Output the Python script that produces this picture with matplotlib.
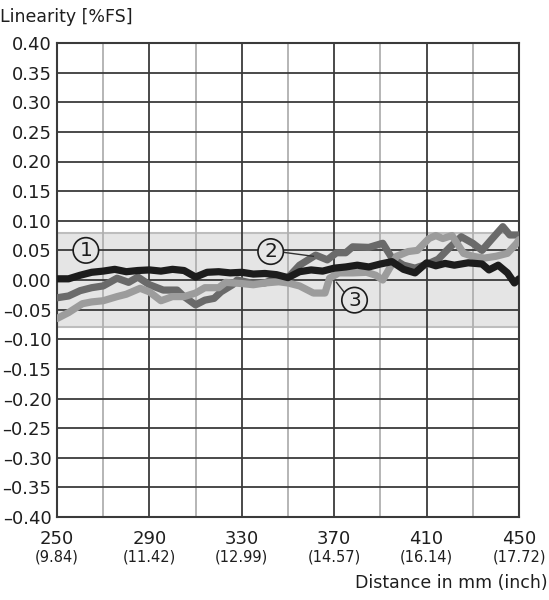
import matplotlib
matplotlib.use("Agg")
import matplotlib.pyplot as plt
import matplotlib.transforms as mtransforms

# ---- data ----
x1 = [250, 255, 260, 265, 270, 275, 280, 285, 290, 295, 300, 305, 310, 315, 320, 325, 330,
      335, 340, 345, 350, 355, 360, 365, 370, 375, 380, 385, 390, 395, 400, 405, 410, 414,
      418, 422, 428, 434, 437, 441, 445, 448, 450]
y1 = [0.002, 0.002, 0.008, 0.013, 0.015, 0.018, 0.014, 0.016, 0.017, 0.015, 0.018, 0.016, 0.005,
      0.013, 0.014, 0.012, 0.013, 0.010, 0.011, 0.009, 0.004, 0.014, 0.017, 0.015, 0.020, 0.022,
      0.025, 0.022, 0.027, 0.031, 0.018, 0.012, 0.029, 0.024, 0.028, 0.025, 0.029, 0.027, 0.017,
      0.025, 0.012, -0.005, 0.002]

x2 = [250, 255, 260, 265, 270, 276, 281, 285, 290, 296, 302, 305, 310, 314, 318, 321, 326, 328,
      334, 340, 344, 350, 355, 362, 367, 371, 375, 378, 385, 391, 395, 400, 405, 411, 415, 420,
      425, 430, 434, 438, 443, 446, 450]
y2 = [-0.030, -0.027, -0.018, -0.013, -0.010, 0.003, -0.004, 0.005, -0.008, -0.017, -0.017,
      -0.028, -0.042, -0.034, -0.031, -0.020, -0.008, 0.000, -0.005, -0.005, 0.002, 0.004, 0.025,
      0.042, 0.034, 0.046, 0.046, 0.056, 0.055, 0.062, 0.037, 0.025, 0.020, 0.028, 0.035, 0.055,
      0.073, 0.062, 0.050, 0.068, 0.090, 0.076, 0.076]

x3 = [250, 255, 261, 265, 270, 276, 280, 286, 290, 295, 300, 305, 310, 314, 320, 323, 330, 335,
      340, 346, 350, 355, 361, 366, 368, 372, 378, 384, 388, 391, 397, 402, 406, 411, 414, 417,
      421, 426, 430, 435, 440, 445, 449, 450]
y3 = [-0.065, -0.055, -0.040, -0.037, -0.035, -0.028, -0.024, -0.014, -0.020, -0.035, -0.028,
      -0.028, -0.022, -0.013, -0.013, -0.004, -0.006, -0.008, -0.005, -0.003, -0.005, -0.010,
      -0.022, -0.022, 0.003, 0.012, 0.012, 0.013, 0.008, 0.000, 0.040, 0.048, 0.050, 0.070,
      0.075, 0.070, 0.075, 0.045, 0.040, 0.037, 0.040, 0.045, 0.062, 0.068]

band_limits = [-0.08, 0.08]
mm_ticks = [250, 290, 330, 370, 410, 450]
inch_labels = ["(9.84)", "(11.42)", "(12.99)", "(14.57)", "(16.14)", "(17.72)"]
minor_ticks = [270, 310, 350, 390, 430]
y_ticks = [0.40, 0.35, 0.30, 0.25, 0.20, 0.15, 0.10, 0.05, 0.00, -0.05, -0.10, -0.15,
           -0.20, -0.25, -0.30, -0.35, -0.40]
y_ticklabels = ["0.40", "0.35", "0.30", "0.25", "0.20", "0.15", "0.10", "0.05", "0.00",
                "\u20130.05", "\u20130.10", "\u20130.15", "\u20130.20", "\u20130.25",
                "\u20130.30", "\u20130.35", "\u20130.40"]
labels = ["1", "2", "3"]
label_pos = [(262.5, 0.05), (342.5, 0.048), (378.8, -0.034)]

plt.rcParams['font.family'] = ['DejaVu Sans']

fig = plt.figure(figsize=(5.49, 6.00), dpi=100)
ax = fig.add_axes([57/549, (600-517)/600, (519-57)/549, (517-43)/600])

ax.set_xlim(250, 450)
ax.set_ylim(-0.40, 0.40)

# band
ax.axhspan(band_limits[0], band_limits[1], facecolor='#e5e5e5', edgecolor='#bdbdbd',
           linewidth=1.5, zorder=0)

# grid
for xm in minor_ticks:
    ax.axvline(xm, color='#b0b0b0', lw=1.3, zorder=1)
for xm in mm_ticks:
    ax.axvline(xm, color='#3a3a3a', lw=1.3, zorder=1)
for yv in y_ticks:
    ax.axhline(yv, color='#3a3a3a', lw=1.3, zorder=1)

# curves
ax.plot(x2, y2, color='#6a6a6a', lw=5.2, solid_joinstyle='round', solid_capstyle='round', zorder=3)
ax.plot(x3, y3, color='#9c9c9c', lw=5.2, solid_joinstyle='round', solid_capstyle='round', zorder=4)
ax.plot(x1, y1, color='#1c1c1c', lw=5.2, solid_joinstyle='round', solid_capstyle='round', zorder=5)

# leader lines
ax.plot([347.5, 361.0], [0.047, 0.040], color='#333333', lw=1.0, zorder=6)
ax.plot([375.0, 371.0], [-0.024, -0.004], color='#333333', lw=1.0, zorder=6)

for lab, (lx, ly) in zip(labels, label_pos):
    ax.text(lx, ly, lab, ha='center', va='center', fontsize=14.5, color='#1c1c1c', zorder=7,
            bbox=dict(boxstyle='circle,pad=0.16', facecolor='#e5e5e5', edgecolor='#1c1c1c',
                      linewidth=1.2))

for s in ax.spines.values():
    s.set_color('#3a3a3a')
    s.set_linewidth(1.5)

ax.set_yticks(y_ticks)
ax.set_yticklabels(y_ticklabels, fontsize=13, color='#1e1e1e')
ax.set_xticks(mm_ticks)
ax.set_xticklabels([str(v) for v in mm_ticks], fontsize=13, color='#1e1e1e')
ax.tick_params(axis='y', length=0, pad=4)
ax.tick_params(axis='x', length=0, pad=9)

offset = mtransforms.ScaledTranslation(0, -33/100, fig.dpi_scale_trans)
for xm, il in zip(mm_ticks, inch_labels):
    ax.text(xm, -0.40, il, transform=ax.transData + offset, ha='center', va='top',
            fontsize=10.5, color='#1e1e1e')

fig.text(0.0, (600-17)/600, "Linearity [%FS]", ha='left', va='center', fontsize=12.5, color='#1e1e1e')
fig.text(548/549, (600-583)/600, "Distance in mm (inch)", ha='right', va='center', fontsize=12.5,
         color='#1e1e1e')

fig.savefig("out.png", dpi=100)
